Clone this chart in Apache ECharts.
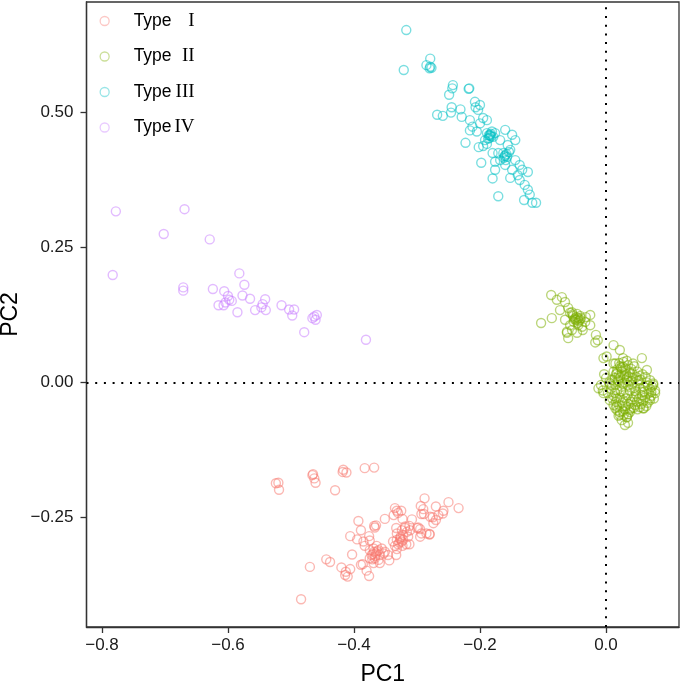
<!DOCTYPE html>
<html>
<head>
<meta charset="utf-8">
<script src="https://cdn.jsdelivr.net/npm/echarts@6/dist/echarts.min.js"></script>
<style>html,body{margin:0;padding:0;background:#fff}#c{width:685px;height:685px}</style>
</head>
<body>
<div id="c"></div>
<script>
// ---- data (PC1, PC2) ----
const categories = ['Type I', 'Type II', 'Type III', 'Type IV'];
const colors = ['#F8766D', '#7CAE00', '#00BFC4', '#C77CFF'];
const xTitle = 'PC1';
const yTitle = 'PC2';

const typeI = [
[-0.524,-0.187],[-0.520,-0.186],[-0.519,-0.199],[-0.466,-0.172],[-0.463,-0.178],[-0.465,-0.170],
[-0.461,-0.186],[-0.417,-0.162],[-0.412,-0.167],[-0.418,-0.166],[-0.383,-0.159],[-0.368,-0.158],
[-0.430,-0.200],[-0.484,-0.402],[-0.470,-0.342],[-0.444,-0.328],[-0.438,-0.333],[-0.420,-0.343],
[-0.413,-0.351],[-0.410,-0.360],[-0.414,-0.357],[-0.406,-0.346],[-0.403,-0.319],[-0.406,-0.285],
[-0.393,-0.257],[-0.389,-0.274],[-0.395,-0.291],[-0.376,-0.285],[-0.375,-0.293],[-0.367,-0.269],
[-0.368,-0.266],[-0.365,-0.265],[-0.386,-0.337],[-0.389,-0.338],[-0.380,-0.349],[-0.376,-0.359],
[-0.385,-0.295],[-0.383,-0.303],[-0.375,-0.311],[-0.369,-0.308],[-0.364,-0.303],[-0.372,-0.320],
[-0.367,-0.326],[-0.361,-0.329],[-0.359,-0.320],[-0.353,-0.317],[-0.365,-0.317],[-0.368,-0.314],
[-0.361,-0.311],[-0.356,-0.308],[-0.359,-0.335],[-0.375,-0.326],[-0.351,-0.314],[-0.369,-0.335],
[-0.351,-0.253],[-0.344,-0.330],[-0.346,-0.320],[-0.333,-0.320],[-0.332,-0.309],[-0.337,-0.246],
[-0.332,-0.238],[-0.325,-0.238],[-0.330,-0.242],[-0.335,-0.233],[-0.338,-0.295],[-0.332,-0.292],
[-0.327,-0.289],[-0.324,-0.295],[-0.322,-0.292],[-0.330,-0.300],[-0.335,-0.303],[-0.323,-0.303],
[-0.317,-0.300],[-0.326,-0.286],[-0.332,-0.280],[-0.324,-0.274],[-0.319,-0.270],[-0.314,-0.286],
[-0.312,-0.300],[-0.316,-0.277],[-0.333,-0.270],[-0.322,-0.283],[-0.323,-0.253],[-0.308,-0.254],
[-0.312,-0.266],[-0.319,-0.267],[-0.311,-0.274],[-0.300,-0.270],[-0.295,-0.272],[-0.293,-0.280],
[-0.285,-0.280],[-0.280,-0.281],[-0.295,-0.286],[-0.298,-0.269],[-0.294,-0.229],[-0.288,-0.215],
[-0.290,-0.235],[-0.293,-0.244],[-0.289,-0.244],[-0.270,-0.230],[-0.258,-0.238],[-0.259,-0.243],
[-0.250,-0.222],[-0.234,-0.233],[-0.275,-0.250],[-0.270,-0.255],[-0.274,-0.261],[-0.280,-0.282],
[-0.266,-0.246],[-0.279,-0.249],
[-0.370,-0.318],[-0.366,-0.322],[-0.371,-0.328],[-0.363,-0.313],[-0.328,-0.297],[-0.326,-0.291]
];

const typeII = [
[-0.087,0.162],[-0.070,0.158],[-0.078,0.153],[-0.065,0.149],[-0.086,0.119],[-0.103,0.110],
[-0.073,0.134],[-0.060,0.138],[-0.054,0.130],[-0.049,0.119],[-0.041,0.116],[-0.033,0.112],
[-0.044,0.106],[-0.057,0.106],[-0.065,0.116],[-0.054,0.097],[-0.037,0.097],[-0.025,0.106],
[-0.025,0.125],[-0.046,0.092],[-0.062,0.092],[-0.016,0.088],[-0.013,0.078],[-0.017,0.074],
[-0.060,0.082],[-0.062,0.094],[-0.052,0.123],[-0.048,0.116],[-0.044,0.119],[-0.051,0.112],
[-0.041,0.123],[-0.046,0.127],[-0.057,0.129],[-0.032,0.121],[-0.038,0.103],
[-0.047,0.121],[-0.043,0.114],[-0.050,0.117],[-0.045,0.110],[-0.040,0.119],[-0.053,0.126],
[0.012,0.069],[0.022,0.060],[0.001,0.048],[-0.004,0.045],[0.012,0.035],[0.057,0.045],
[-0.012,-0.011],[-0.004,-0.020],[0.006,-0.033],[0.017,-0.045],[0.022,-0.060],[0.033,-0.064],
[0.038,-0.051],[0.059,-0.048],[0.070,-0.033],[0.078,-0.020],[0.075,-0.002],[0.065,0.023],
[0.043,0.035],[0.027,0.029],[0.017,0.017],[0.006,-0.002],
[0.015,0.035],[0.022,0.030],[0.028,0.038],[0.035,0.032],[0.040,0.025],[0.018,0.024],
[0.025,0.020],[0.032,0.015],[0.020,0.012],[0.038,0.018],[0.045,0.030],[0.030,0.026],
[0.012,0.020],[0.027,0.045],[0.050,0.020],[0.048,0.010],
[0.005,0.000],[0.010,0.005],[0.015,-0.005],[0.020,0.002],[0.025,-0.008],[0.030,0.000],
[0.035,-0.005],[0.040,0.003],[0.045,-0.010],[0.050,-0.002],[0.055,0.005],[0.060,-0.008],
[0.065,0.000],[0.070,-0.012],[0.075,-0.005],[0.068,-0.020],[0.058,-0.018],[0.048,-0.022],
[0.038,-0.015],[0.028,-0.020],[0.018,-0.015],[0.008,-0.012],[0.003,-0.020],[0.012,-0.025],
[0.022,-0.028],[0.032,-0.030],[0.042,-0.032],[0.052,-0.030],[0.062,-0.028],[0.072,-0.025],
[0.078,-0.015],[0.066,-0.038],[0.056,-0.040],[0.046,-0.042],[0.036,-0.040],[0.026,-0.038],
[0.016,-0.036],[0.010,-0.030],[0.043,0.008],[0.053,0.012],[0.033,0.008],[0.023,0.010],
[0.014,0.008],[0.063,0.010],[0.070,0.004],[0.076,-0.030],[0.060,-0.048],[0.050,-0.050],
[0.015,-0.048],[0.022,-0.055],[0.030,-0.050],[0.038,-0.055],[0.028,-0.060],[0.020,-0.062],
[0.033,-0.065],[0.040,-0.048],[0.012,-0.042],[0.025,-0.070],[0.035,-0.075],[0.030,-0.079],
[-0.005,-0.015],[-0.008,-0.005],[0.000,0.008],[-0.003,0.015],
[0.024,0.027],[0.031,0.021],[0.036,0.011],[0.019,0.004],[0.026,-0.002],[0.041,-0.004],
[0.047,-0.016],[0.054,-0.011],[0.061,-0.017],[0.066,-0.006],[0.072,-0.018],[0.057,-0.024],
[0.044,-0.027],[0.034,-0.024],[0.024,-0.016],[0.014,-0.019],[0.009,-0.006],[0.017,-0.030],
[0.027,-0.033],[0.039,-0.036],[0.049,-0.036],[0.059,-0.035],[0.069,-0.030],[0.021,-0.042],
[0.031,-0.044],[0.027,-0.053],[0.035,-0.059],[0.018,-0.052],[0.042,0.016],[0.034,0.003],
[0.052,0.003],[0.058,0.015],[0.029,0.012],[0.016,0.015],[0.021,0.036],[0.033,0.040],
[0.073,-0.008],[0.064,-0.044],[0.054,-0.046],[0.044,-0.047]
];

const typeIII = [
[-0.317,0.653],[-0.321,0.579],[-0.279,0.600],[-0.285,0.588],[-0.279,0.585],[-0.277,0.583],
[-0.280,0.582],[-0.243,0.551],[-0.244,0.545],[-0.249,0.533],[-0.217,0.545],[-0.218,0.544],
[-0.268,0.496],[-0.259,0.494],[-0.245,0.510],[-0.246,0.500],[-0.231,0.506],[-0.229,0.492],
[-0.208,0.520],[-0.207,0.510],[-0.200,0.514],[-0.203,0.505],[-0.223,0.444],[-0.216,0.486],
[-0.212,0.474],[-0.205,0.465],[-0.216,0.467],[-0.200,0.480],[-0.195,0.490],[-0.189,0.486],
[-0.189,0.462],[-0.184,0.459],[-0.179,0.455],[-0.187,0.452],[-0.181,0.465],[-0.176,0.462],
[-0.192,0.449],[-0.202,0.436],[-0.195,0.438],[-0.189,0.442],[-0.198,0.407],[-0.180,0.425],
[-0.176,0.409],[-0.176,0.394],[-0.180,0.378],[-0.171,0.345],[-0.171,0.425],
[-0.152,0.431],[-0.144,0.412],[-0.137,0.403],[-0.149,0.394],[-0.140,0.384],[-0.137,0.375],
[-0.129,0.366],[-0.124,0.357],[-0.121,0.348],[-0.130,0.338],[-0.117,0.333],[-0.111,0.333],
[-0.124,0.390],[-0.133,0.394],[-0.152,0.379],[-0.160,0.403],[-0.168,0.412],[-0.156,0.440],
[-0.144,0.449],[-0.168,0.449],[-0.160,0.468],[-0.149,0.459],[-0.160,0.421],[-0.157,0.418],
[-0.163,0.425],[-0.154,0.427],[-0.159,0.412],[-0.162,0.416],[-0.186,0.458],[-0.183,0.461],
[-0.182,0.456],[-0.185,0.453],[-0.161,0.419],[-0.158,0.423],[-0.184,0.457]
];

const typeIV = [
[-0.778,0.317],[-0.669,0.321],[-0.702,0.275],[-0.629,0.265],[-0.783,0.199],[-0.582,0.202],
[-0.671,0.176],[-0.671,0.170],[-0.624,0.173],[-0.574,0.181],[-0.606,0.169],[-0.577,0.161],
[-0.600,0.160],[-0.565,0.155],[-0.598,0.153],[-0.594,0.151],[-0.604,0.148],[-0.615,0.143],
[-0.607,0.143],[-0.585,0.130],[-0.557,0.134],[-0.541,0.154],[-0.545,0.145],[-0.547,0.139],
[-0.540,0.134],[-0.515,0.143],[-0.503,0.135],[-0.495,0.135],[-0.498,0.124],[-0.479,0.093],
[-0.463,0.122],[-0.459,0.125],[-0.461,0.116],[-0.466,0.119],[-0.381,0.079]
];

const xTicks = [-0.8, -0.6, -0.4, -0.2, 0.0];
const yTicks = [-0.25, 0.00, 0.25, 0.50];
const xTickLabels = ['\u22120.8', '\u22120.6', '\u22120.4', '\u22120.2', '0.0'];
const yTickLabels = ['\u22120.25', '0.00', '0.25', '0.50'];

// ---- chart ----
const seriesData = [typeI, typeII, typeIII, typeIV];
function rgba(hex, a) {
  const n = parseInt(hex.slice(1), 16);
  return 'rgba(' + ((n >> 16) & 255) + ',' + ((n >> 8) & 255) + ',' + (n & 255) + ',' + a + ')';
}
const chart = echarts.init(document.getElementById('c'), null, {renderer: 'canvas'});
const series = categories.map((name, i) => ({
  name: name,
  type: 'scatter',
  data: seriesData[i],
  symbol: 'circle',
  symbolSize: 9,
  itemStyle: {color: 'rgba(0,0,0,0)', borderColor: rgba(colors[i], 0.65), borderWidth: 1.4},
  emphasis: {disabled: true},
  z: 2
}));
series.push({
  type: 'scatter', data: [], silent: true,
  markLine: {
    silent: true, symbol: ['none', 'none'], animation: false,
    label: {show: false},
    lineStyle: {color: '#000', width: 2, type: [2, 6.7]},
    data: [{xAxis: 0}, {yAxis: 0}]
  },
  z: 3
});
function fmt(ticks, labels) {
  return function (v) {
    for (let k = 0; k < ticks.length; k++) if (Math.abs(v - ticks[k]) < 1e-9) return labels[k];
    return '';
  };
}
const axisCol = '#333';
chart.setOption({
  animation: false,
  backgroundColor: '#fff',
  grid: {left: 86.5, right: 6, top: 2, bottom: 58, outerBoundsMode: 'none', containLabel: false,
    show: true, borderColor: axisCol, borderWidth: 1.3, backgroundColor: 'transparent'},
  graphic: [{
    type: 'text', x: 11, y: 314.5, rotation: Math.PI / 2, silent: true,
    style: {text: yTitle, fontFamily: 'Liberation Sans', fontSize: 23, fill: '#000',
      align: 'center', verticalAlign: 'middle'}
  }],
  legend: {
    left: 99.5, top: 11.5, padding: 0, orient: 'vertical',
    itemWidth: 9, itemHeight: 9, itemGap: 16.5,
    selectedMode: false,
    data: categories.map((c, i) => ({
      name: c, icon: 'circle',
      itemStyle: {color: 'rgba(0,0,0,0)', borderColor: rgba(colors[i], 0.5), borderWidth: 1.3}
    })),
    formatter: function (name) {
      const num = name.split(' ')[1];
      return '{t|Type}{n|' + num + '}';
    },
    textStyle: {
      padding: [0, 0, 0, 19.5],
      rich: {
        t: {fontFamily: 'Liberation Sans', fontSize: 17.5, color: '#000', lineHeight: 20},
        n: {fontFamily: 'Liberation Serif', fontSize: 19, color: '#000', lineHeight: 20, width: 23, align: 'right'}
      }
    }
  },
  xAxis: {
    type: 'value', min: -0.8246, max: 0.1159,
    name: xTitle, nameLocation: 'middle', nameGap: 36,
    nameTextStyle: {fontFamily: 'Liberation Sans', fontSize: 23, color: '#000'},
    axisLine: {show: true, onZero: false, lineStyle: {color: axisCol, width: 1.3}},
    axisTick: {show: true, length: 6, lineStyle: {color: axisCol, width: 1.3}, customValues: xTicks},
    axisLabel: {customValues: xTicks, formatter: fmt(xTicks, xTickLabels), margin: 10,
      fontFamily: 'Liberation Sans', fontSize: 17, color: '#1a1a1a'},
    splitLine: {show: false}
  },
  yAxis: {
    type: 'value', min: -0.4534, max: 0.705,
    axisLine: {show: true, onZero: false, lineStyle: {color: axisCol, width: 1.3}},
    axisTick: {show: true, length: 6, lineStyle: {color: axisCol, width: 1.3}, customValues: yTicks},
    axisLabel: {customValues: yTicks, formatter: fmt(yTicks, yTickLabels), margin: 13,
      fontFamily: 'Liberation Sans', fontSize: 17, color: '#1a1a1a'},
    splitLine: {show: false}
  },
  series: series
});
</script>
</body>
</html>
